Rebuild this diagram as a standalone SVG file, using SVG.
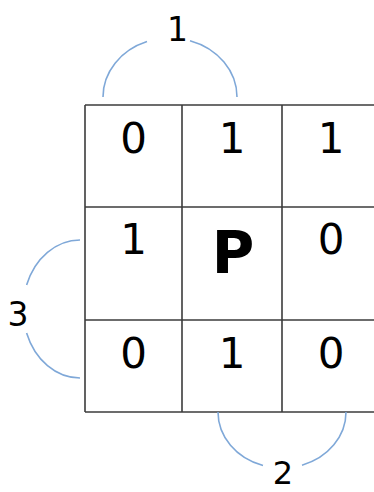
<svg xmlns="http://www.w3.org/2000/svg" width="374" height="492" viewBox="0 0 374 492">
<style>
.grid{stroke:#3c3c3c;stroke-width:1.6;fill:none}
.arc{stroke:#7fa8d8;stroke-width:1.6;fill:none}
.d{font-family:"DejaVu Sans",sans-serif;font-size:42px;fill:#000;text-anchor:middle}
.p{font-family:"DejaVu Sans",sans-serif;font-size:58px;font-weight:bold;fill:#000;text-anchor:middle}
.lbl{font-family:"DejaVu Sans",sans-serif;font-size:33px;fill:#000;text-anchor:middle}
</style>
<rect width="374" height="492" fill="#fff"/>
<g id="grid">
<path class="grid" d="M85 105V412M182 105V412M282 105V412M85 105H374M85 207H374M85 320H374M85 412H374"/>
</g>
<g id="cell-r1c1"><text class="d" x="133.5" y="153">0</text></g>
<g id="cell-r1c2"><text class="d" x="232" y="153">1</text></g>
<g id="cell-r1c3"><text class="d" x="331" y="153">1</text></g>
<g id="cell-r2c1"><text class="d" x="133.5" y="254">1</text></g>
<g id="cell-r2c2"><text class="p" x="233" y="273">P</text></g>
<g id="cell-r2c3"><text class="d" x="331" y="254">0</text></g>
<g id="cell-r3c1"><text class="d" x="133.5" y="368">0</text></g>
<g id="cell-r3c2"><text class="d" x="232" y="368">1</text></g>
<g id="cell-r3c3"><text class="d" x="331" y="368">0</text></g>
<g id="connectors">
<path class="arc" d="M103 97A67 59 0 0 1 147 41.6M190 40.7A67 59 0 0 1 237 97"/>
<path class="arc" d="M80 240A57 69 0 0 0 26.6 285M26.6 333A57 69 0 0 0 80 378"/>
<path class="arc" d="M218 412A64 56 0 0 0 263 465.5M302 465.2A64 56 0 0 0 346 412"/>
</g>
<g id="labels">
<text class="lbl" x="177.5" y="41">1</text>
<text class="lbl" x="18" y="326">3</text>
<text class="lbl" x="283" y="484" style="font-size:32px">2</text>
</g>
</svg>
